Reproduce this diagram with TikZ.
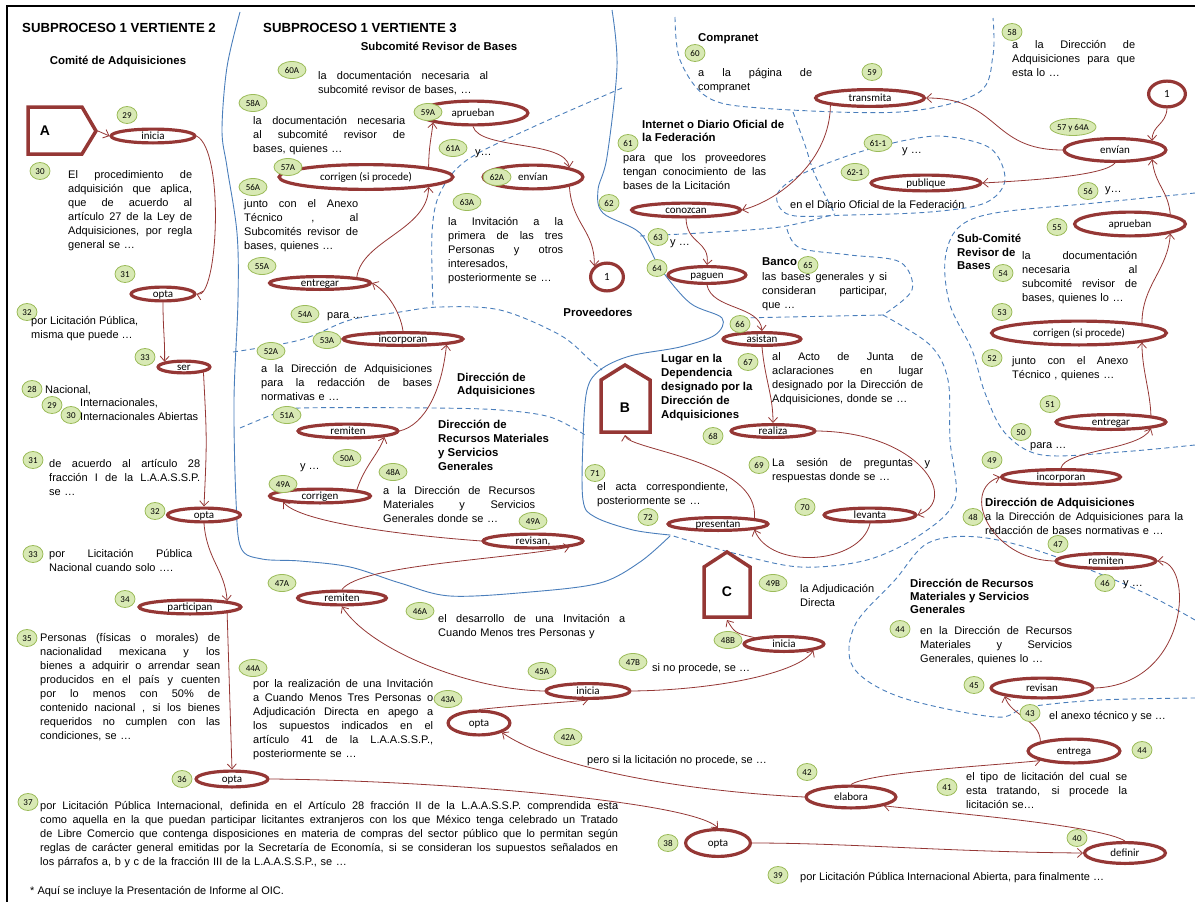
\documentclass[tikz,border=0pt]{standalone}
\usepackage{fontspec}
\setmainfont{Liberation Sans}
\newfontfamily\carl{Carlito}
\usetikzlibrary{shapes.geometric,arrows.meta}
\setlength{\parindent}{0pt}
\definecolor{dred}{HTML}{953735}
\definecolor{lgreen}{HTML}{D8E9B4}
\definecolor{bgreen}{HTML}{9BBB59}
\definecolor{lblue}{HTML}{4A7EBB}
\newcommand\J[1]{\makebox[\hsize][s]{\spaceskip=0pt\xspaceskip=0pt\relax #1}}
\newcommand\bodyf{\fontsize{11}{13.9}\selectfont}
\newcommand\E[6]{\node[ell,minimum width={#4pt-3.2pt},minimum height={#5pt-3.2pt}] (#1) at (#2,#3) {#6};}
\newcommand\B[5][20]{\node[bd,minimum width=#1pt] (#2) at (#3,#4) {#5};}
\begin{document}
\begin{tikzpicture}[x=1pt,y=-1pt,
 ell/.style={ellipse,draw=dred,line width=3.2pt,fill=white,inner sep=-1.5pt,text height=8.5pt,text depth=1.5pt,font=\carl\fontsize{11}{12}\selectfont},
 bd/.style={ellipse,draw=bgreen,line width=0.8pt,fill=lgreen,inner sep=-3pt,minimum height=17pt,text height=6.8pt,text depth=0.3pt,font=\carl\fontsize{9}{10}\selectfont},
 con/.style={draw=dred,line width=0.8pt,-{Straight Barb[length=5pt,width=9pt]}},
 lane/.style={draw=lblue,line width=0.9pt},
 dl/.style={draw=lblue,line width=0.9pt,dash pattern=on 5pt off 3.5pt},
 tx/.style={anchor=north west,inner sep=0pt,font=\bodyf,align=left},
 t1/.style={anchor=base west,inner sep=0pt,font=\bodyf},
 hb/.style={anchor=base west,inner sep=0pt,font=\bfseries\fontsize{11.4}{14}\selectfont},
 hbm/.style={anchor=north west,inner sep=0pt,font=\bfseries\fontsize{11.4}{14}\selectfont,align=left},
 house/.style={draw=dred,line width=3.5pt,line join=miter,fill=white},
 big/.style={inner sep=0pt,font=\bfseries\fontsize{14}{16}\selectfont}]
\useasboundingbox (0,0) rectangle (1195,902);
\draw[line width=2pt] (7,902) -- (7,6) -- (1195,6);

% ---------- swimlane boundaries ----------
\draw[lane] plot[smooth,tension=0.55] coordinates {(240,12) (227,67) (222,130) (227,167) (237,233) (238,300) (234,400) (236,500) (241,548) (262,559) (300,561) (350,567) (400,583) (450,596) (530,592) (600,583) (640,562) (670,536)};
\draw[lane] plot[smooth,tension=0.55] coordinates {(612,10) (617,67) (607,157) (598,190) (603,213) (640,233) (660,268) (690,303) (722,318) (715,335) (680,347) (630,356) (600,370) (587,390) (583,440) (583,500) (595,517) (633,530) (670,535)};

\draw[dl] plot[smooth,tension=0.55] coordinates {(675,17) (680,60) (707,97) (760,108) (900,112) (978,93) (993,55) (993,18)};
\draw[dl] plot[smooth,tension=0.55] coordinates {(793,112) (805,145) (815,175) (835,214)};
\draw[dl] plot[smooth,tension=0.55] coordinates {(893,143) (940,136) (990,148) (1005,180) (985,203) (930,212) (850,215) (790,215) (777,195) (800,175) (850,155) (893,143)};
\draw[dl] plot[smooth,tension=0.55] coordinates {(640,236) (700,233) (780,227) (835,214)};
\draw[dl] plot[smooth,tension=0.55] coordinates {(787,229) (800,248) (850,255) (900,262) (912,290) (883,315)};
\draw[dl] (883,315) -- (740,318);
\draw[dl] plot[smooth,tension=0.55] coordinates {(883,315) (930,345) (948,380) (950,440) (955,500) (920,535) (867,560) (800,567) (733,553) (670,535)};
\draw[dl] plot[smooth,tension=0.55] coordinates {(1195,193) (1095,203) (995,213) (958,228) (945,260) (950,305) (972,350) (985,393) (1005,433) (1042,455) (1120,452) (1195,445)};
\draw[dl] plot[smooth,tension=0.55] coordinates {(1195,620) (1138,590) (1045,553) (978,537) (928,543) (895,580) (855,625) (853,667) (900,697) (995,717) (1028,707) (1100,700) (1195,698)};
\draw[dl] plot[smooth,tension=0.55] coordinates {(622,88) (533,127) (467,160) (440,193) (432,233) (433,305)};
\draw[dl] plot[smooth,tension=0.55] coordinates {(233,352) (300,340) (350,320) (400,312) (440,307) (500,310) (560,335) (590,360) (602,370)};
\draw[dl] plot[smooth,tension=0.55] coordinates {(240,428) (277,413) (300,408) (433,408) (500,410) (550,417) (585,435)};

% ---------- titles ----------
\node[anchor=base west,inner sep=0pt,font=\bfseries\fontsize{13.2}{15}\selectfont] (tit2) at (22,32.8) {SUBPROCESO 1 VERTIENTE 2};
\node[anchor=base west,inner sep=0pt,font=\bfseries\fontsize{13.2}{15}\selectfont] (tit3) at (263,32.8) {SUBPROCESO 1 VERTIENTE 3};
\node[inner sep=0pt,font=\bfseries\fontsize{11.4}{14}\selectfont] (hCA) at (118,62) {Comité de Adquisiciones};
\node[inner sep=0pt,font=\bfseries\fontsize{11.4}{14}\selectfont] (hSRB) at (439,46) {Subcomité Revisor de Bases};
\node[hb] (hComp) at (698,41) {Compranet};
\node[hbm,font=\bfseries\fontsize{11.4}{13.4}\selectfont] (hInt) at (642,120) {Internet o Diario Oficial de\\la Federación};
\node[hb] (hBanco) at (762,265) {Banco};
\node[inner sep=0pt,font=\bfseries\fontsize{11.4}{14}\selectfont] (hProv) at (598,312) {Proveedores};
\node[hbm] (hLug) at (661,354) {Lugar en la\\Dependencia\\designado por la\\Dirección de\\Adquisiciones};
\node[hbm,font=\bfseries\fontsize{11.4}{13}\selectfont] (hDA1) at (457,373) {Dirección de\\Adquisiciones};
\node[hbm] (hDR1) at (438,420) {Dirección de\\Recursos Materiales\\y Servicios\\Generales};
\node[hbm,font=\bfseries\fontsize{11.4}{13.5}\selectfont] (hSub) at (957,234) {Sub-Comité\\Revisor de\\Bases};
\node[hb] (hDA2) at (985,506) {Dirección de Adquisiciones};
\node[hbm,font=\bfseries\fontsize{11.4}{13}\selectfont] (hDR2) at (910,579) {Dirección de Recursos\\Materiales y Servicios\\Generales};

% ---------- shapes A, B, C ----------
\draw[house] (28,107) -- (82,107) -- (96,131) -- (82,154) -- (28,154) -- cycle;
\node[big] (nA) at (45,131) {A};
\coordinate (Atip) at (98,131);
\draw[house] (601,380) -- (625,365) -- (650,380) -- (650,432) -- (601,432) -- cycle;
\node[big] (nB) at (625,408) {B};
\coordinate (Bbot) at (625,435);
\draw[house] (704,567) -- (727,552) -- (750,567) -- (750,617) -- (704,617) -- cycle;
\node[big] (nC) at (727,592) {C};
\coordinate (Cbot) at (727,620);

% ---------- ellipses ----------
\E{i29}{153}{136}{87}{17}{inicia}
\E{op31}{163}{294}{67}{17}{opta}
\E{ser}{184}{367}{55}{15}{ser}
\E{op32}{204}{515}{76}{17}{opta}
\E{part}{190}{607}{105}{17}{participan}
\E{op36}{232}{779}{75}{19}{opta}

\E{rem47A}{342}{598}{92}{17}{remiten}
\E{rev49A}{533}{541}{103}{17}{revisan,}
\E{cor49A}{320}{496}{104}{17}{corrigen}
\E{rem51A}{348}{431}{103}{17}{remiten}
\E{inc53A}{403}{339}{123}{16}{incorporan}
\E{ent55A}{320}{283}{104}{16}{entregar}
\E{cor57A}{366}{177}{177}{28}{corrigen (si procede)}
\E{apr59A}{473}{113}{113}{27}{aprueban}
\E{env62A}{533}{177}{103}{27}{envían}
\E{one1}{607}{277}{36}{31}{1}
\E{ini45A}{588}{691}{87}{18}{inicia}
\E{opt43A}{479}{723}{65}{27}{opta}
\E{ela}{851}{797}{93}{25}{elabora}
\E{opt38}{718}{843}{68}{30}{opta}
\E{def}{1125}{853}{84}{24}{definir}
\E{ini48B}{784}{644}{83}{18}{inicia}

\E{tra}{870}{98}{112}{20}{transmita}
\E{con}{686}{210}{112}{17}{conozcan}
\E{pag}{707}{275}{81}{20}{paguen}
\E{asi}{762}{339}{81}{16}{asistan}
\E{rea}{773}{431}{87}{16}{realiza}
\E{lev}{870}{515}{95}{17}{levanta}
\E{pre}{718}{524}{103}{16}{presentan}

\E{one2}{1167}{94}{40}{29}{1}
\E{env57}{1115}{150}{105}{26}{envían}
\E{pub}{926}{183}{113}{19}{publique}
\E{apr55}{1130}{224}{114}{27}{aprueban}
\E{cor53}{1079}{333}{178}{27}{corrigen (si procede)}
\E{ent51}{1111}{422}{113}{18}{entregar}
\E{inc49}{1061}{477}{122}{18}{incorporan}
\E{rem47}{1106}{561}{103}{18}{remiten}
\E{rev45}{1042}{688}{105}{23}{revisan}
\E{entg}{1074}{751}{95}{27}{entrega}

% ---------- connectors ----------
\draw[con] (Atip) -- (i29.west);
\draw[con] (i29.east) .. controls (225,150) and (218,300) .. (op31.east);
\draw[con] (op31.south) .. controls (163,330) and (165,340) .. (ser.north west);
\draw[con] (ser.south east) .. controls (207,440) .. (op32.north);
\draw[con] (op32.south) .. controls (207,560) and (225,570) .. (part.north east);
\draw[con] (part.south east) -- (op36.north);
\draw[con] (op36.east) .. controls (420,780) and (690,800) .. (opt38.north);
\draw[con] (opt38.east) .. controls (850,843) and (950,852) .. (def.west);
\draw[con] (def.north) .. controls (1100,825) and (940,812) .. (ela.south east);
\draw[con] (ela.west) .. controls (700,792) and (560,772) .. (opt43A.south east);
\draw[con] (opt43A.north) .. controls (520,705) and (570,702) .. (ini45A.south);
\draw[con] (ini45A.west) .. controls (470,690) and (370,650) .. (rem47A.south);
\draw[con] (rem47A.north) .. controls (360,565) and (500,560) .. (rev49A.south east);
\draw[con] (rev49A.west) .. controls (400,535) and (300,522) .. (cor49A.south west);
\draw[con] (cor49A.north east) .. controls (365,465) and (378,455) .. (rem51A.south east);
\draw[con] (rem51A.east) .. controls (425,425) and (442,390) .. (inc53A.south east);
\draw[con] (inc53A.north) .. controls (400,310) and (385,290) .. (ent55A.east);
\draw[con] (ent55A.north east) .. controls (362,240) and (428,230) .. (cor57A.south east);
\draw[con] (cor57A.north east) .. controls (429,145) and (431,140) .. (apr59A.south west);
\draw[con] (apr59A.south) .. controls (480,150) and (565,140) .. (env62A.north east);
\draw[con] (env62A.south east) .. controls (572,225) and (595,230) .. (one1.north west);

\draw[con] (env57.west) .. controls (990,150) and (1000,98) .. (tra.east);
\draw[con] (tra.south west) .. controls (830,160) and (780,200) .. (con.east);
\draw[con] (con.south) .. controls (687,245) and (710,240) .. (pag.north);
\draw[con] (pag.south) .. controls (712,310) and (760,305) .. (asi.north);
\draw[con] (asi.south) .. controls (765,380) and (773,395) .. (rea.north);
\draw[con] (rea.east) .. controls (920,432) and (960,500) .. (lev.east);
\draw[con] (lev.south) .. controls (860,565) and (770,570) .. (pre.south east);
\draw[con] (pre.north east) .. controls (760,460) and (628,450) .. (Bbot);
\draw[con] (ini48B.north west) .. controls (735,633) .. (Cbot);
\draw[con] (ini45A.east) .. controls (720,690) and (800,672) .. (ini48B.south east);

\draw[con] (one2.south) .. controls (1166,125) and (1152,125) .. (env57.north east);
\draw[con] (env57.south) .. controls (1105,175) and (1040,180) .. (pub.east);
\draw[con] (apr55.north east) .. controls (1168,190) and (1155,185) .. (env57.south east);
\draw[con] (cor53.north east) .. controls (1142,285) and (1168,270) .. (apr55.south east);
\draw[con] (ent51.north east) .. controls (1150,390) and (1142,370) .. (cor53.south east);
\draw[con] (inc49.north) .. controls (1065,450) and (1140,450) .. (ent51.south east);
\draw[con] (rem47.west) .. controls (990,560) and (960,490) .. (inc49.west);
\draw[con] (rev45.east) .. controls (1190,685) and (1195,560) .. (rem47.east);
\draw[con] (entg.north west) .. controls (1040,720) and (1010,715) .. (rev45.south west);
\draw[con] (ela.north) .. controls (870,772) and (1000,765) .. (entg.south west);

% ---------- badges ----------
\B{b29}{127}{115}{29}
\B{b30}{40}{171}{30}
\B{b31}{125}{274}{31}
\B{b32a}{27}{312}{32}
\B{b33a}{145}{357}{33}
\B{b28}{32}{389}{28}
\B{b29b}{52}{405}{29}
\B{b30b}{71}{415}{30}
\B{b31b}{33}{460}{31}
\B{b32b}{155}{511}{32}
\B{b33b}{33}{554}{33}
\B{b34}{125}{599}{34}
\B{b35}{27}{638}{35}
\B{b36}{182}{779}{36}
\B{b37}{28}{802}{37}
\B[28]{b60A}{292}{70}{60A}
\B[28]{b58A}{253}{103}{58A}
\B[28]{b57A}{288}{167}{57A}
\B[28]{b56A}{253}{187}{56A}
\B[28]{b55A}{262}{266}{55A}
\B[28]{b59A}{428}{112}{59A}
\B[28]{b61A}{453}{148}{61A}
\B[28]{b62A}{497}{177}{62A}
\B[28]{b63A}{467}{202}{63A}
\B[28]{b54A}{305}{314}{54A}
\B[28]{b53A}{327}{340}{53A}
\B[28]{b52A}{271}{351}{52A}
\B[28]{b51A}{287}{415}{51A}
\B[28]{b50A}{347}{458}{50A}
\B[28]{b48A}{393}{472}{48A}
\B[28]{b49A}{283}{484}{49A}
\B[28]{b49Ab}{533}{521}{49A}
\B[28]{b47A}{282}{583}{47A}
\B[28]{b46A}{420}{611}{46A}
\B[28]{b44A}{253}{668}{44A}
\B[28]{b45A}{542}{671}{45A}
\B[28]{b43A}{448}{699}{43A}
\B[28]{b42A}{568}{737}{42A}
\B[28]{b47B}{633}{662}{47B}
\B[28]{b48B}{728}{640}{48B}
\B[28]{b49B}{773}{583}{49B}
\B{b60}{695}{53}{60}
\B{b59}{872}{72}{59}
\B{b61}{628}{143}{61}
\B{b62}{609}{203}{62}
\B[28]{b61x1}{878}{143}{61-1}
\B[28]{b62x1}{855}{172}{62-1}
\B{b63}{658}{237}{63}
\B{b64}{657}{268}{64}
\B{b65}{808}{265}{65}
\B{b66}{740}{324}{66}
\B{b67}{748}{362}{67}
\B{b68}{713}{436}{68}
\B{b69}{759}{465}{69}
\B{b70}{805}{507}{70}
\B{b71}{595}{473}{71}
\B{b72}{648}{517}{72}
\B{b58}{1012}{32}{58}
\B[46]{b57}{1073}{127}{57 y 64A}
\B{b56}{1088}{191}{56}
\B{b55}{1057}{227}{55}
\B{b54}{1003}{273}{54}
\B{b53}{1002}{312}{53}
\B{b52}{992}{358}{52}
\B{b51}{1050}{404}{51}
\B{b50}{1021}{432}{50}
\B{b49}{992}{460}{49}
\B{b48}{973}{517}{48}
\B{b47}{1058}{544}{47}
\B{b46}{1105}{583}{46}
\B{b44}{900}{629}{44}
\B{b45}{974}{685}{45}
\B{b43}{1030}{713}{43}
\B{b44r}{1142}{750}{44}
\B{b41}{947}{787}{41}
\B{b42}{807}{772}{42}
\B{b40}{1077}{838}{40}
\B{b38}{668}{843}{38}
\B{b39}{778}{875}{39}

% ---------- texts ----------
\node[tx,text width=124pt] (t30) at (68,169) {\strut\J{El procedimiento de}\\\J{adquisición que aplica,}\\\J{que de acuerdo al}\\\J{artículo 27 de la Ley de}\\\J{Adquisiciones, por regla}\\general se …};
\node[tx] (t32) at (31,315) {\strut por Licitación Pública,\\misma que puede  …};
\node[t1] (t28) at (45,393) {Nacional,};
\node[t1] (t29) at (80,406) {Internacionales,};
\node[t1] (t30b) at (80,420) {Internacionales Abiertas};
\node[tx,text width=151pt] (t31) at (49,458) {\strut\J{de acuerdo al artículo 28}\\\J{fracción I de la L.A.A.S.S.P.}\\se …};
\node[tx,text width=143pt] (t33) at (49,548) {\strut\J{por Licitación Pública}\\Nacional cuando solo ….};
\node[tx,text width=180pt] (t35) at (40,632) {\strut\J{Personas (físicas o morales) de}\\\J{nacionalidad mexicana y los}\\\J{bienes a adquirir o arrendar sean}\\\J{producidos en el país y cuenten}\\\J{por lo menos con 50\% de}\\\J{contenido nacional , si los bienes}\\\J{requeridos no cumplen con las}\\condiciones, se …};
\node[tx,text width=578pt] (t37) at (40,800) {\strut\J{por  Licitación Pública Internacional, definida en el Artículo 28 fracción II  de la L.A.A.S.S.P. comprendida esta}\\\J{como aquella en la que puedan participar licitantes extranjeros con los que México tenga celebrado un Tratado}\\\J{de Libre Comercio que contenga disposiciones en materia de compras del sector público que lo permitan  según}\\\J{reglas de carácter general emitidas por la Secretaría de Economía, si se consideran los supuestos señalados en}\\los párrafos a, b y c de la fracción III de la L.A.A.S.S.P., se …};
\node[t1] (tfoot) at (30,894) {* Aquí se incluye la Presentación de Informe al OIC.};

\node[tx,text width=170pt] (t60A) at (318,70) {\strut\J{la documentación necesaria al}\\subcomité revisor de bases, …};
\node[tx,text width=152pt] (t58A) at (253,115) {\strut\J{la documentación necesaria}\\\J{al subcomité revisor de}\\bases, quienes …};
\node[tx,text width=114pt] (t56A) at (244,198) {\strut\J{junto con el Anexo}\\\J{Técnico , al}\\\J{Subcomités revisor de}\\bases, quienes …};
\node[t1] (t61A) at (475,155.5) {y…};
\node[tx,text width=115pt] (t63A) at (448,216) {\strut\J{la Invitación a la}\\\J{primera de las tres}\\\J{Personas y otros}\\interesados,\\posteriormente se …};
\node[t1] (t54A) at (327,318.5) {para …};
\node[tx,text width=171pt] (t52A) at (261,363) {\strut\J{a la Dirección de Adquisiciones}\\\J{para la redacción de bases}\\normativas e …};
\node[t1] (t50A) at (300,469.5) {y …};
\node[tx,text width=152pt] (t48A) at (383,485) {\strut\J{a la Dirección de Recursos}\\\J{Materiales y Servicios}\\Generales donde se …};
\node[tx,text width=187pt] (t46A) at (438,613) {\strut\J{el desarrollo de una Invitación a}\\Cuando Menos tres Personas y};
\node[tx,text width=180pt] (t44A) at (253,678) {\strut\J{por la realización de una Invitación}\\\J{a Cuando Menos Tres Personas o}\\\J{Adjudicación Directa en apego a}\\\J{los supuestos indicados en el}\\\J{artículo 41 de la L.A.A.S.S.P.,}\\posteriormente se …};
\node[t1] (t42A) at (587,763.5) {pero si la licitación no procede, se …};
\node[t1] (t47B) at (652,671.5) {si no procede, se …};
\node[tx] (t49B) at (800,583) {\strut la Adjudicación\\Directa};

\node[tx,text width=114pt] (t60) at (698,67) {\strut\J{a la página de}\\compranet};
\node[tx,text width=143pt] (t61) at (623,152) {\strut\J{para que los proveedores}\\\J{tengan conocimiento de las}\\bases de la Licitación};
\node[t1] (t62x1) at (790,208.5) {en el Diario Oficial de la Federación};
\node[t1] (t61x1) at (902,153.5) {y …};
\node[t1] (t63) at (670,245.5) {y …};
\node[tx,text width=125pt] (t65) at (762,271) {\strut\J{las bases generales y si}\\\J{consideran participar,}\\que …};
\node[tx,text width=151pt] (t67) at (772,351) {\strut\J{al Acto de Junta de}\\\J{aclaraciones en lugar}\\\J{designado por la Dirección de}\\Adquisiciones, donde se …};
\node[tx,text width=158pt] (t69) at (772,457) {\strut\J{La sesión de preguntas y}\\respuestas donde se …};
\node[tx,text width=131pt] (t71) at (597,481) {\strut\J{el acta correspondiente,}\\posteriormente se …};

\node[tx,text width=123pt] (t58) at (1012,39) {\strut\J{a la Dirección de}\\\J{Adquisiciones para que}\\esta lo …};
\node[t1] (t56) at (1105,192.5) {y…};
\node[tx,text width=115pt] (t54) at (1022,250) {\strut\J{la documentación}\\\J{necesaria al}\\\J{subcomité revisor de}\\bases, quienes lo …};
\node[tx,text width=116pt] (t52) at (1012,355) {\strut\J{junto con el Anexo}\\Técnico , quienes  …};
\node[t1] (t50) at (1030,448.5) {para …};
\node[tx,text width=198pt] (t48) at (985,511) {\strut\J{a la Dirección de Adquisiciones para la}\\redacción de bases normativas e …};
\node[t1] (t46) at (1123,586.5) {y …};
\node[tx,text width=152pt] (t44) at (920,625) {\strut\J{en la Dirección de Recursos}\\\J{Materiales y Servicios}\\Generales, quienes lo …};
\node[t1] (t43) at (1049,719.5) {el  anexo técnico y se …};
\node[tx,text width=161pt] (t41) at (966,771) {\strut\J{el tipo de licitación del cual se}\\\J{esta tratando, si procede la}\\licitación se…};
\node[t1] (t39) at (800,880.5) {por  Licitación Pública Internacional Abierta, para finalmente …};
\end{tikzpicture}
\end{document}
